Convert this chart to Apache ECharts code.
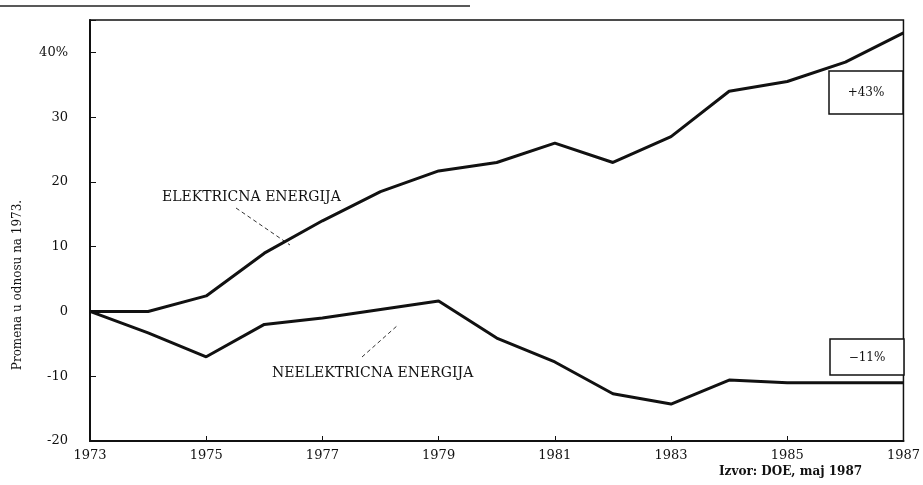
<!doctype html>
<html>
    <head>
        <meta charset="utf-8">
        <title>Elektricna i neelektricna energija</title>
        <style>
            html, body { margin: 0; padding: 0; background: #fff; }
            #main { width: 923px; height: 485px; }
        </style>
    </head>
    <body>
        <div id="main"></div>
        <script src="https://cdn.jsdelivr.net/npm/echarts@6/dist/echarts.min.js"></script>
        <script>
            var years = ['1973', '1974', '1975', '1976', '1977', '1978', '1979', '1980',
                         '1981', '1982', '1983', '1984', '1985', '1986', '1987'];
            // promena u odnosu na 1973, u %
            var elektricna = [0, 0, 2.4, 9, 14, 18.5, 21.7, 23, 26, 23, 27, 34, 35.5, 38.5, 43];
            var neelektricna = [0, -3.3, -7, -2, -1, 0.3, 1.6, -4.1, -7.8, -12.7, -14.3, -10.6, -11, -11, -11];

            var serif = '"DejaVu Serif", "Liberation Serif", serif';
            var chart = echarts.init(document.getElementById('main'));

            chart.setOption({
                backgroundColor: '#fff',
                animation: false,
                grid: {
                    left: 90,
                    right: 11,
                    top: 20,
                    bottom: 44,
                    show: true,
                    borderColor: '#111',
                    borderWidth: 1.5
                },
                xAxis: {
                    type: 'category',
                    data: years,
                    boundaryGap: false,
                    axisLine: { onZero: false, lineStyle: { color: '#111', width: 2 } },
                    axisTick: { inside: true, length: 5, interval: 1, lineStyle: { color: '#111' } },
                    axisLabel: {
                        interval: 1,
                        color: '#111',
                        fontFamily: serif,
                        fontSize: 13,
                        margin: 8
                    },
                    splitLine: { show: false }
                },
                yAxis: {
                    type: 'value',
                    min: -20,
                    max: 45,
                    interval: 10,
                    axisLine: { show: true, lineStyle: { color: '#111', width: 2 } },
                    axisTick: { show: true, inside: true, length: 6, lineStyle: { color: '#111' } },
                    axisLabel: {
                        color: '#111',
                        fontFamily: serif,
                        fontSize: 13,
                        margin: 22,
                        formatter: function (v) {
                            if (v % 10 !== 0) return '';
                            return v === 40 ? '40%' : String(v);
                        }
                    },
                    splitLine: { show: false }
                },
                series: [
                    {
                        name: 'ELEKTRICNA ENERGIJA',
                        type: 'line',
                        data: elektricna,
                        symbol: 'none',
                        lineStyle: { color: '#111', width: 3 }
                    },
                    {
                        name: 'NEELEKTRICNA ENERGIJA',
                        type: 'line',
                        data: neelektricna,
                        symbol: 'none',
                        lineStyle: { color: '#111', width: 3 }
                    }
                ],
                graphic: [
                    {
                        type: 'line',
                        shape: { x1: 0, y1: 6, x2: 470, y2: 6 },
                        style: { stroke: '#222', lineWidth: 1.5 }
                    },
                    {
                        type: 'text',
                        x: 18, y: 285,
                        rotation: Math.PI / 2,
                        style: {
                            text: 'Promena u odnosu na 1973.',
                            font: '12px ' + serif,
                            fill: '#111',
                            align: 'center',
                            verticalAlign: 'middle'
                        }
                    },
                    {
                        type: 'text',
                        x: 162, y: 197,
                        style: {
                            text: 'ELEKTRICNA ENERGIJA',
                            font: '14px ' + serif,
                            fill: '#111',
                            verticalAlign: 'middle'
                        }
                    },
                    {
                        type: 'line',
                        shape: { x1: 236, y1: 208, x2: 290, y2: 245 },
                        style: { stroke: '#333', lineWidth: 1, lineDash: [4, 3] }
                    },
                    {
                        type: 'text',
                        x: 272, y: 373,
                        style: {
                            text: 'NEELEKTRICNA ENERGIJA',
                            font: '14px ' + serif,
                            fill: '#111',
                            verticalAlign: 'middle'
                        }
                    },
                    {
                        type: 'line',
                        shape: { x1: 362, y1: 357, x2: 398, y2: 325 },
                        style: { stroke: '#333', lineWidth: 1, lineDash: [4, 3] }
                    },
                    {
                        type: 'rect',
                        shape: { x: 829, y: 71, width: 74, height: 43 },
                        style: { fill: '#fff', stroke: '#111', lineWidth: 1.5 }
                    },
                    {
                        type: 'text',
                        x: 866, y: 93,
                        style: {
                            text: '+43%',
                            font: '12px ' + serif,
                            fill: '#111',
                            align: 'center',
                            verticalAlign: 'middle'
                        }
                    },
                    {
                        type: 'rect',
                        shape: { x: 830, y: 339, width: 74, height: 36 },
                        style: { fill: '#fff', stroke: '#111', lineWidth: 1.5 }
                    },
                    {
                        type: 'text',
                        x: 867, y: 358,
                        style: {
                            text: '\u221211%',
                            font: '12px ' + serif,
                            fill: '#111',
                            align: 'center',
                            verticalAlign: 'middle'
                        }
                    },
                    {
                        type: 'text',
                        x: 719, y: 472,
                        style: {
                            text: 'Izvor: DOE, maj 1987',
                            font: 'bold 12px ' + serif,
                            fill: '#111',
                            verticalAlign: 'middle'
                        }
                    }
                ]
            });

            window.onresize = chart.resize;
        </script>
    </body>
</html>
